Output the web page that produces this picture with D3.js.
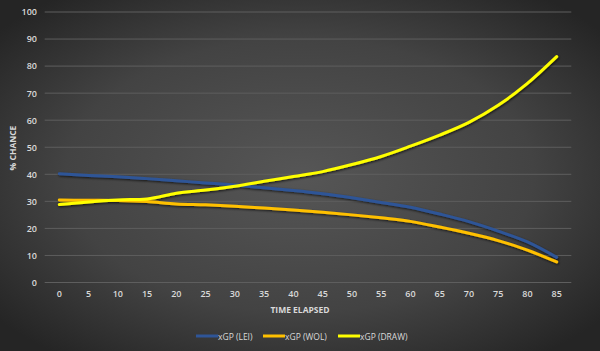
<!DOCTYPE html>
<html><head><meta charset="utf-8">
<script src="https://cdn.jsdelivr.net/npm/d3@7"></script>
<style>html,body{margin:0;padding:0;background:#333;}svg{display:block;}</style>
</head><body>
<svg id="c" width="600" height="351"></svg>
<script>
const categories = [0,5,10,15,20,25,30,35,40,45,50,55,60,65,70,75,80,85];
const yTicks = [0,10,20,30,40,50,60,70,80,90,100];
const lei  = [40.2,39.6,39.1,38.4,37.6,36.8,36.0,35.0,34.0,32.8,31.3,29.6,27.8,25.3,22.5,19.0,15.0,9.3];
const wol  = [30.5,30.4,30.3,29.9,29.0,28.7,28.2,27.5,26.8,26.0,25.0,23.9,22.6,20.5,18.2,15.5,12.0,7.6];
const draw = [28.8,29.8,30.5,30.9,33.0,34.2,35.6,37.4,39.2,41.0,43.6,46.6,50.4,54.5,59.2,65.5,73.6,83.5];
const seriesNames = ["xGP (LEI)","xGP (WOL)","xGP (DRAW)"];
const seriesColors = ["#2f5597","#ffc000","#ffff00"];
const seriesData = [lei, wol, draw];

const svg = d3.select("#c");
const W = 600, H = 351;
const defs = svg.append("defs");
const rg = defs.append("radialGradient").attr("id","bg").attr("cx","50%").attr("cy","50%").attr("r","65%");
rg.append("stop").attr("offset","0%").attr("stop-color","#565656");
rg.append("stop").attr("offset","60%").attr("stop-color","#434343");
rg.append("stop").attr("offset","100%").attr("stop-color","#252525");
const f = defs.append("filter").attr("id","sh").attr("x","-5%").attr("y","-20%").attr("width","110%").attr("height","140%");
f.append("feDropShadow").attr("dx",0.8).attr("dy",1.2).attr("stdDeviation",1).attr("flood-color","#000").attr("flood-opacity",0.7);
svg.append("rect").attr("width",W).attr("height",H).attr("fill","url(#bg)");

const x = d3.scaleBand().domain(categories).range([44.7,571.3]);
const y = d3.scaleLinear().domain([0,100]).range([282.5,12]);
const font = "'Open Sans', 'Liberation Sans', sans-serif";

// grid
svg.append("g").selectAll("line").data(yTicks).join("line")
  .attr("x1",44.7).attr("x2",571.3)
  .attr("y1",d=>y(d)).attr("y2",d=>y(d))
  .attr("stroke","#5e5e5e").attr("stroke-width",1);

// y axis labels
const ya = svg.append("g").attr("transform","translate(37,0)")
  .call(d3.axisLeft(y).tickValues(yTicks).tickSize(0).tickPadding(0));
ya.select(".domain").remove();
ya.selectAll("text").attr("fill","#d9d9d9").style("font-family",font).style("font-size","9px").style("font-weight","600");

// x axis labels
const xa = svg.append("g").attr("transform","translate(0,291)")
  .call(d3.axisBottom(x).tickSize(0).tickPadding(0));
xa.select(".domain").remove();
xa.selectAll("text").attr("fill","#d9d9d9").style("font-family",font).style("font-size","9px").style("font-weight","600");

// titles
svg.append("text").attr("x",300).attr("y",313).attr("text-anchor","middle")
  .attr("fill","#d9d9d9").style("font-family",font).style("font-size","8.5px").style("font-weight","700")
  .text("TIME ELAPSED");
svg.append("text").attr("transform","translate(16,148) rotate(-90)").attr("text-anchor","middle")
  .attr("fill","#d9d9d9").style("font-family",font).style("font-size","8.5px").style("font-weight","700")
  .text("% CHANCE");

// lines
const line = d3.line().x((d,i)=>x(categories[i])+x.bandwidth()/2).y(d=>y(d)).curve(d3.curveMonotoneX);
const lg = svg.append("g").attr("filter","url(#sh)");
seriesData.forEach((s,k)=>{
  lg.append("path").datum(s).attr("d",line).attr("fill","none")
    .attr("stroke",seriesColors[k]).attr("stroke-width",3).attr("stroke-linecap","round").attr("stroke-linejoin","round");
});

// legend
const legX = [196,263,338];
const leg = svg.append("g");
seriesNames.forEach((n,k)=>{
  leg.append("line").attr("x1",legX[k]).attr("x2",legX[k]+22).attr("y1",336).attr("y2",336)
    .attr("stroke",seriesColors[k]).attr("stroke-width",3);
  leg.append("text").attr("x",legX[k]+22).attr("y",339.5).attr("fill","#d9d9d9")
    .style("font-family",font).style("font-size","8.5px").text(n);
});
</script>
</body></html>
